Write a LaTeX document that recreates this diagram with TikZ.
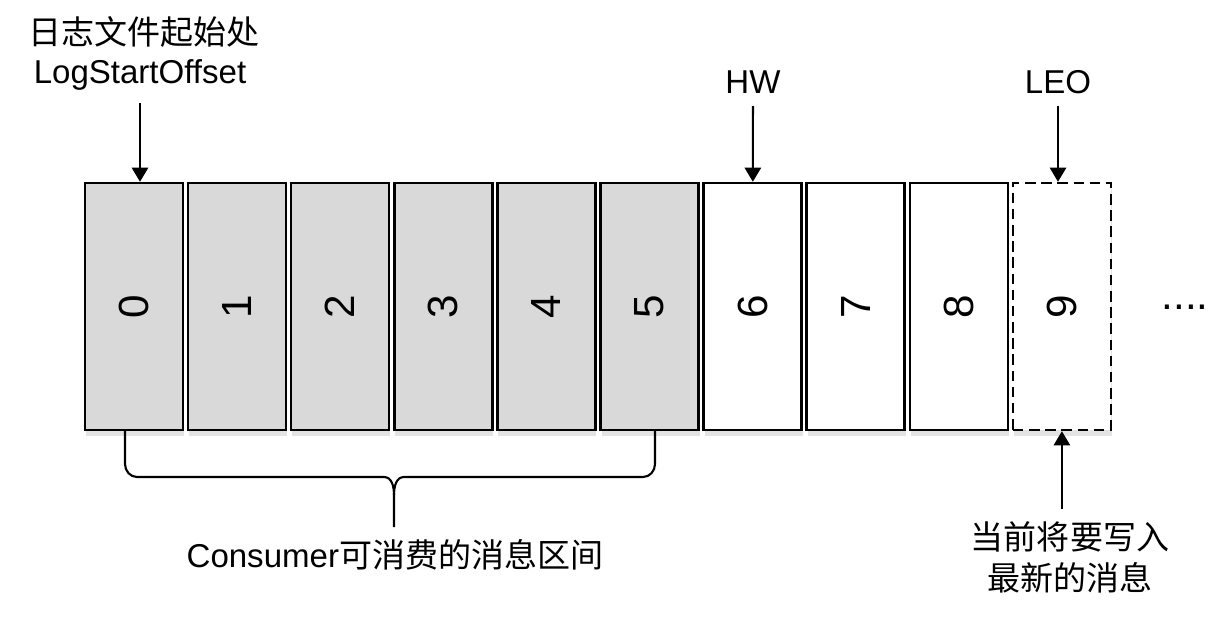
\documentclass[tikz,border=0pt]{standalone}
\usepackage{fontspec}
\setmainfont{Liberation Sans}
\newfontfamily\cjk{Noto Sans CJK SC}
\usepackage{tikz}
\usetikzlibrary{arrows.meta, shadows}
\definecolor{readgray}{HTML}{D9D9D9}

\begin{document}
\begin{tikzpicture}[>={Triangle[width=4.6pt,length=4pt]},
			line width=0.6pt,
			font=\fontsize{9.4pt}{11pt}\selectfont,
			cell/.style={draw, line width=0.7pt, minimum width=0.98cm, minimum height=2.47cm, inner sep=0pt,
				font=\fontsize{12pt}{14pt}\selectfont,
				drop shadow={shadow xshift=0.3pt, shadow yshift=-1.6pt, opacity=0.22}},
			done/.style={cell, fill=readgray},
			todo/.style={cell, fill=white},
			nextmsg/.style={cell, fill=white, dash pattern=on 3pt off 1.6pt}]
			\useasboundingbox (0,0) rectangle (12.26,6.2);
			% the log, one box per message
			\node at (1.340,3.135) (b0) [done] {\rotatebox{90}{0}};
			\node at (2.371,3.135) (b1) [done] {\rotatebox{90}{1}};
			\node at (3.402,3.135) (b2) [done] {\rotatebox{90}{2}};
			\node at (4.433,3.135) (b3) [done] {\rotatebox{90}{3}};
			\node at (5.464,3.135) (b4) [done] {\rotatebox{90}{4}};
			\node at (6.495,3.135) (b5) [done] {\rotatebox{90}{5}};
			\node at (7.526,3.135) (b6) [todo] {\rotatebox{90}{6}};
			\node at (8.557,3.135) (b7) [todo] {\rotatebox{90}{7}};
			\node at (9.588,3.135) (b8) [todo] {\rotatebox{90}{8}};
			\node at (10.619,3.135) (b9) [nextmsg] {\rotatebox{90}{9}};
			\node at (11.85,3.13) (more) [font=\fontsize{12pt}{14pt}\selectfont] {....};
			% labels
			\node at (1.44,5.88) (s1) {\cjk 日志文件起始处};
			\node at (1.40,5.45) (s2) {LogStartOffset};
			\node at (7.53,5.38) (hw) {HW};
			\node at (10.58,5.38) (leo) {LEO};
			\node at (3.95,0.65) (cons) {Consumer{\cjk 可消费的消息区间}};
			\node at (10.70,0.83) (w1) {\cjk 当前将要写入};
			\node at (10.70,0.42) (w2) {\cjk 最新的消息};
			\draw[->, black] (s2.south) -- (s2.south |- b0.north);
			\draw[->, black] (hw) -- (b6);
			\draw[->, black] (leo.south) -- (leo.south |- b9.north);
			\draw[->, black] (b9.south |- w1.north) -- (b9.south);
			% brace under 0..5
			\draw[black] (1.25,1.89) -- (1.25,1.56) to[out=-90,in=180] (1.37,1.43) -- (3.84,1.43) to[out=0,in=90] (3.94,1.25) -- (3.94,0.93);
			\draw[black] (6.55,1.89) -- (6.55,1.56) to[out=-90,in=0] (6.43,1.43) -- (4.04,1.43) to[out=180,in=90] (3.94,1.25);
		\end{tikzpicture}
\end{document}
